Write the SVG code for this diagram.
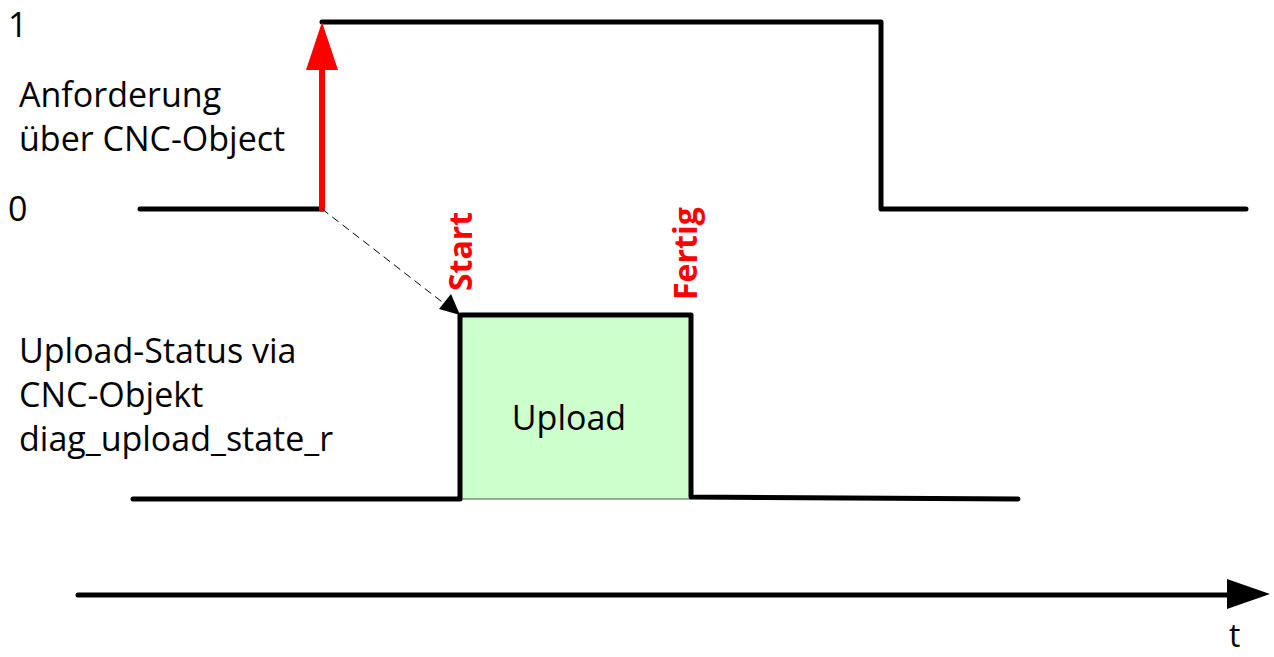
<svg xmlns="http://www.w3.org/2000/svg" width="1274" height="657" viewBox="0 0 1274 657">
<defs>
<style>
.lbl{font-family:"Open Sans","Liberation Sans",sans-serif;font-size:34px;fill:#000}
.red{font-family:"Open Sans","Liberation Sans",sans-serif;font-size:32px;font-weight:bold;fill:#FF0000}
.sig{fill:none;stroke:#000;stroke-width:5;stroke-linejoin:round;stroke-linecap:round}
</style>
</defs>
<rect width="1274" height="657" fill="#fff"/>
<g id="upload-box">
<rect x="460" y="315" width="231" height="184" fill="#CCFFCC" stroke="#555" stroke-width="1"/>
<text class="lbl" x="569" y="430" text-anchor="middle">Upload</text>
</g>
<g id="connectors">
<polyline class="sig" points="140,209 322,209"/>
<polyline class="sig" points="322,22 881,22 881,209 1246,209"/>
<polyline class="sig" points="133,499 460,499 460,315 691,315 691,497 1018,499"/>
<line x1="322" y1="209" x2="322" y2="68" stroke="#FF0000" stroke-width="6" stroke-linecap="round"/>
<polygon points="322,22 338,70 306,70" fill="#FF0000"/>
<line x1="322" y1="209" x2="446" y2="305" stroke="#000" stroke-width="1" stroke-dasharray="8,5"/>
<polygon points="460,315 439,309 451,294" fill="#000"/>
<line x1="78" y1="595" x2="1230" y2="595" stroke="#000" stroke-width="5" stroke-linecap="round"/>
<polygon points="1270,594 1227,579 1227,609" fill="#000"/>
</g>
<g id="labels">
<text class="lbl" x="8" y="37">1</text>
<text class="lbl" x="8" y="221">0</text>
<text class="lbl" x="19" y="107">Anforderung</text>
<text class="lbl" x="19" y="151">über CNC-Object</text>
<text class="lbl" x="19" y="363">Upload-Status via</text>
<text class="lbl" x="19" y="407">CNC-Objekt</text>
<text class="lbl" x="19" y="451">diag_upload_state_r</text>
<text class="lbl" x="1229" y="647" style="font-size:32px">t</text>
<text class="red" transform="translate(472,291) rotate(-90)">Start</text>
<text class="red" transform="translate(697,300) rotate(-90)">Fertig</text>
</g>
</svg>
